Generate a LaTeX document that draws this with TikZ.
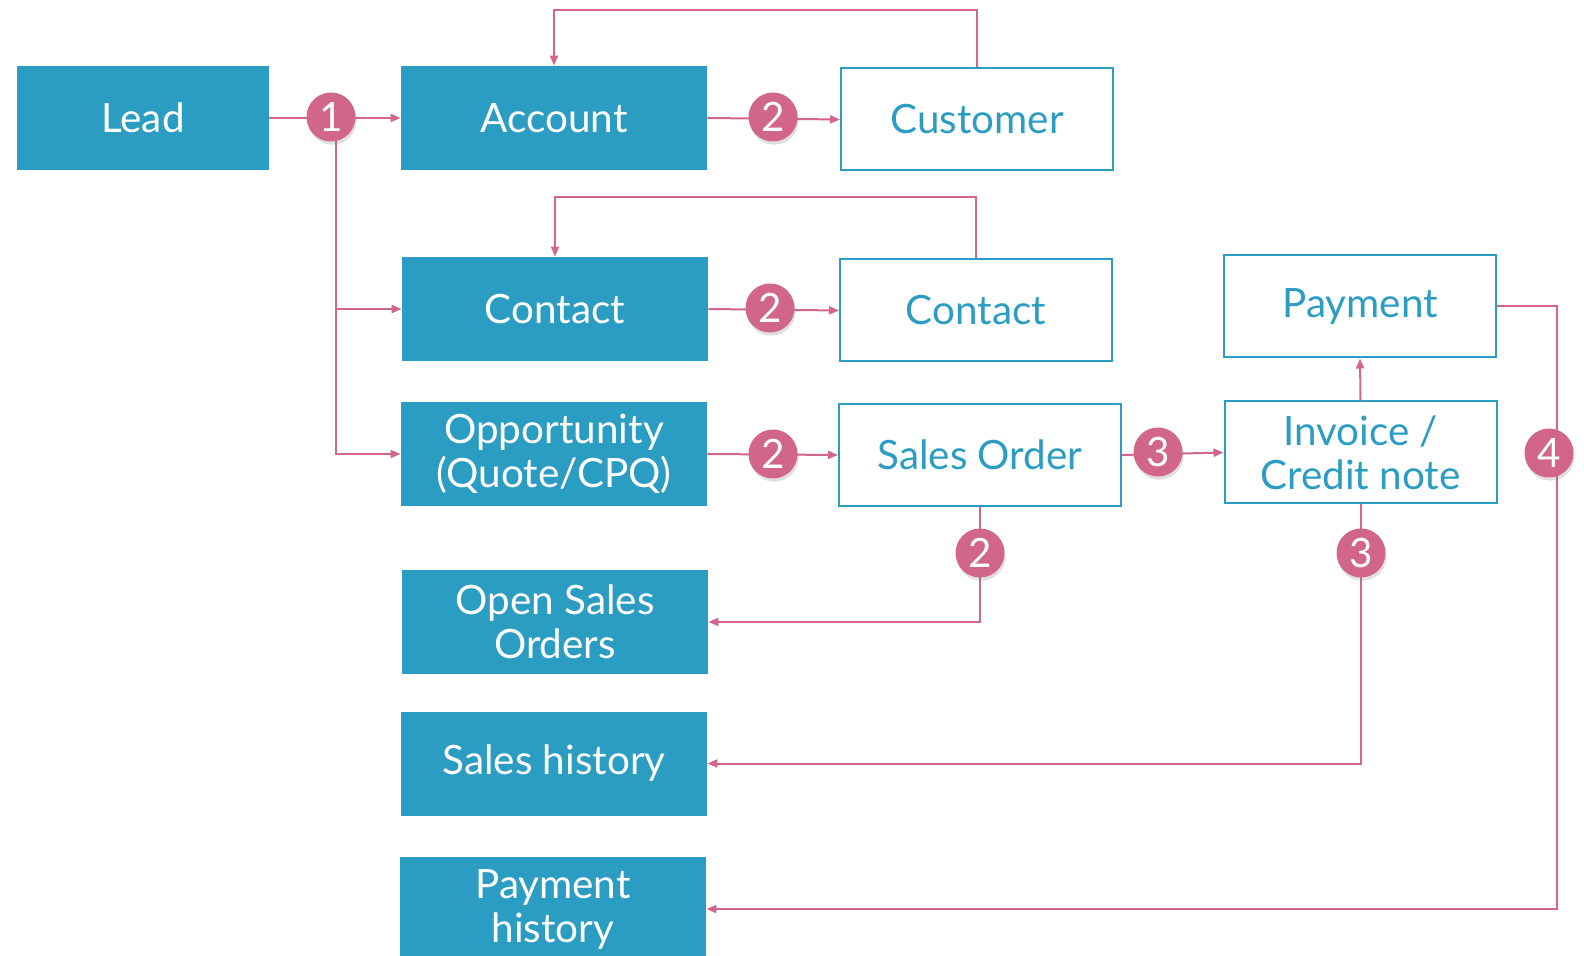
\documentclass[tikz,border=0pt]{standalone}
\usepackage{fontspec}
\setmainfont{Lato}
\usepackage{xcolor}
\definecolor{boxblue}{HTML}{2B9DC2}
\definecolor{linkpink}{HTML}{D1668A}
\usetikzlibrary{arrows.meta,positioning,shadows}

\begin{document}
\begin{tikzpicture}[
  x=0.5pt, y=-0.5pt,
  font=\fontsize{20.2}{22}\selectfont,
  >={Triangle[length=5pt,width=4pt]},
  fillbox/.style={fill=boxblue, text=white, align=center, inner sep=0pt, minimum width=153pt, minimum height=52pt},
  outbox/.style={draw=boxblue, line width=1pt, text=boxblue, align=center, inner sep=0pt, minimum width=136pt, minimum height=51pt},
  link/.style={draw=linkpink, line width=1pt},
  badge/.style={circle, fill=linkpink, text=white, inner sep=0pt, minimum size=24.5pt,
    drop shadow={opacity=0.25, shadow xshift=0.6pt, shadow yshift=-1.6pt}},
]
\useasboundingbox (0,0) rectangle (1584,956);

% Left column
\node[fillbox, minimum width=126pt] (lead) at (143,118) {Lead};
\node[fillbox] (account) at (554,118) {Account};
\node[fillbox] (contactA) at (555,309) {Contact};
\node[fillbox] (opp) at (554,454) {Opportunity\\(Quote/CPQ)};
\node[fillbox] (openso) at (555,622) {Open Sales\\Orders};
\node[fillbox] (saleshist) at (554,763.5) {Sales history};
\node[fillbox] (payhist) at (553,909) {Payment\\history};

% Right side
\node[outbox] (customer) at (977,119.5) {Customer};
\node[outbox] (contactB) at (976,310.5) {Contact};
\node[outbox, minimum width=141pt] (salesorder) at (980,455) {Sales Order};
\node[outbox] (invoice) at (1360.5,452.5) {Invoice /\\Credit note};
\node[outbox] (payment) at (1360,306.5) {Payment};

% Connectors
\coordinate (split) at (336,118);
\coordinate (topA) at (554,10);
\coordinate (topC) at (555,197);
\draw[link, ->] (lead.east) -- (account.west);
\draw[link, ->] (split) |- (contactA.west);
\draw[link, ->] (split) |- (opp.west);
\draw[link, ->] (account.east) -- (customer.west);
\draw[link, ->] (contactA.east) -- (contactB.west);
\draw[link, ->] (opp.east) -- (salesorder.west);
\draw[link, ->] (customer.north) |- (topA) -- (account.north);
\draw[link, ->] (contactB.north) |- (topC) -- (contactA.north);
\draw[link, ->] (salesorder.east) -- (invoice.west);
\draw[link, ->] (invoice.north) -- (payment.south);
\draw[link, ->] (salesorder.south) |- (openso.east);
\draw[link, ->] (invoice.south) |- (saleshist.east);
\draw[link, ->] (payment.east) -- ++(60,0) |- (payhist.east);

% Badges
\node[badge] (b1) at (331,117) {1};
\node[badge] (b2a) at (773,117) {2};
\node[badge] (b2b) at (770,308) {2};
\node[badge] (b2c) at (773,454) {2};
\node[badge] (b2d) at (980,553) {2};
\node[badge] (b3a) at (1158,452) {3};
\node[badge] (b3b) at (1361,553) {3};
\node[badge] (b4) at (1549,453) {4};
\end{tikzpicture}
\end{document}
